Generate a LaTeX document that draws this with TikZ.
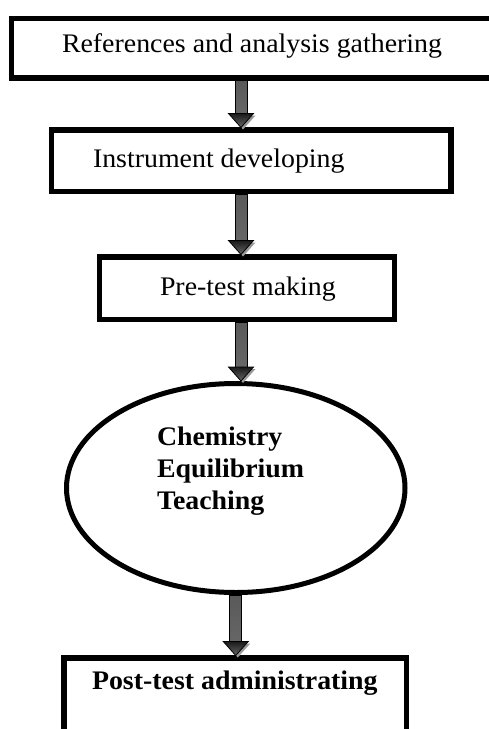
\documentclass[tikz,border=0pt]{standalone}
\usepackage{fontspec}
\setmainfont{Liberation Serif}[FakeStretch=1.04]
\usetikzlibrary{calc,shapes.geometric}
\tikzset{
  boxshape/.style={draw=black, line width=5.5pt, rectangle, inner sep=0pt, outer sep=0pt},
  ovalshape/.style={draw=black, line width=5pt, ellipse, inner sep=0pt, outer sep=0pt},
  lbl/.style={anchor=base west, inner sep=0pt, outer sep=0pt, font=\fontsize{26.8}{32}\selectfont},
  blbl/.style={lbl, font=\fontsize{26.8}{32}\selectfont\bfseries},
  shaftstyle/.style={top color=black!65, middle color=black, bottom color=black!60, draw=black, line width=0.8pt},
  headstyle/.style={top color=black!90, bottom color=black!60, draw=black, line width=0.8pt},
  shadowstyle/.style={fill=black!40},
}
% #1 start point, #2 end point (both named-node based)
\newcommand\fatarrow[2]{%
  \fill[shadowstyle] let \p1=#1, \p2=#2 in
    (\x1-12.5pt+2pt,\y2+2.5pt+14pt-2pt) -- (\x1+12.5pt+2pt,\y2+2.5pt+14pt-2pt) -- (\x1+2pt,\y2+2.5pt-2pt) -- cycle;
  \shadedraw[shaftstyle] let \p1=#1, \p2=#2 in
    (\x1-6pt,\y1-2.75pt) rectangle (\x1+6pt,\y2+2.5pt+14pt);
  \shadedraw[headstyle] let \p1=#1, \p2=#2 in
    (\x1-12.5pt,\y2+2.5pt+14pt) -- (\x1+12.5pt,\y2+2.5pt+14pt) -- (\x1,\y2+2.5pt) -- cycle;
}
\begin{document}
\begin{tikzpicture}[x=1pt, y=-1pt]
  \useasboundingbox (0,0) rectangle (489,729);
  \clip (0,0) rectangle (489,729);
  \coordinate (ax) at (241,0);

  % boxes
  \node[boxshape, minimum width=508.5pt, minimum height=59.5pt] (b1) at (265.75,48.25) {};
  \node[boxshape, minimum width=399.5pt, minimum height=61.5pt] (b2) at (251.25,160.75) {};
  \node[boxshape, minimum width=295pt, minimum height=62.5pt] (b3) at (247,288.25) {};
  \node[ovalshape, minimum width=338.5pt, minimum height=209pt] (el) at (235.75,488) {};
  \node[boxshape, minimum width=342.5pt, minimum height=120pt] (b5) at (235.25,718) {};

  % texts
  \node[lbl] (t1) at (62,52) {References and analysis gathering};
  \node[lbl] (t2) at (93,167) {Instrument developing};
  \node[lbl] (t3) at (160,295) {Pre-test making};
  \node[blbl] (t4a) at (157,445) {Chemistry};
  \node[blbl] (t4b) at (157,477) {Equilibrium};
  \node[blbl] (t4c) at (157,509) {Teaching};
  \node[blbl] (t5) at (92,689) {Post-test administrating};

  % arrows
  \fatarrow{(b1.south -| ax)}{(b2.north -| ax)}
  \fatarrow{(b2.south -| ax)}{(b3.north -| ax)}
  \fatarrow{(b3.south -| ax)}{(el.north -| ax)}
  \fatarrow{(el.south)}{(b5.north -| el.south)}
\end{tikzpicture}
\end{document}
